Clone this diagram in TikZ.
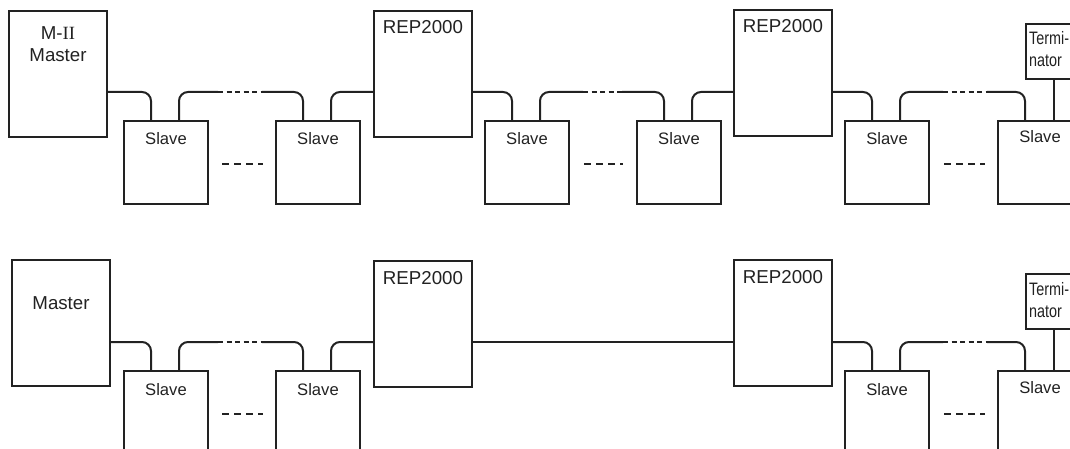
\documentclass[tikz,border=0pt]{standalone}
\usepackage{fontspec}
\setmainfont{Liberation Sans}
\newfontfamily\numeralfont{Liberation Serif}
\usetikzlibrary{positioning}
\definecolor{linegray}{HTML}{222222}
\newcommand{\narrow}[1]{\scalebox{0.8}[1]{#1}}
\tikzset{
  box/.style={draw=linegray, line width=2pt, inner sep=0pt, anchor=north west},
  mainbox/.style={box, minimum width=98pt, minimum height=126pt},
  slavebox/.style={box, minimum width=84pt, minimum height=83pt},
  termbox/.style={box, minimum width=56pt, minimum height=55pt},
  bigtxt/.style={font=\fontsize{18.7}{22}\selectfont, text=linegray, inner sep=0pt, anchor=base},
  slavetxt/.style={font=\fontsize{16.6}{20}\selectfont, text=linegray, inner sep=0pt, anchor=base},
  termtxt/.style={font=\fontsize{18}{20}\selectfont, text=linegray, inner sep=0pt, anchor=base west},
  wire/.style={draw=linegray, line width=2pt, rounded corners=9pt},
  wiregap/.style={draw=linegray, line width=2pt, dash pattern=on 5pt off 3.5pt},
  slavegap/.style={draw=linegray, line width=2pt, dash pattern=on 7pt off 5pt}
}
\begin{document}
\begin{tikzpicture}[x=1pt,y=-1pt]
    \useasboundingbox (0,0) rectangle (1070,449);
    \clip (0,0) rectangle (1070,449);
    % masters
    \node[mainbox, label={[bigtxt,yshift=-30pt]north:M-{\numeralfont II}},
      label={[bigtxt,yshift=-52pt]north:Master}] (ma) at (8,10) {};
    \node[mainbox, label={[bigtxt,yshift=-50pt]north:Master}] (mb) at (11,259) {};
    % parts shared by both rows
    \foreach \r/\oy in {a/0,b/250}{
      \coordinate (bus\r) at (0,92+\oy);
      \node[slavebox, label={[slavetxt,yshift=-25pt]north:Slave}] (s1\r) at (123,120+\oy) {};
      \node[slavebox, label={[slavetxt,yshift=-25pt]north:Slave}] (s2\r) at (275,120+\oy) {};
      \node[mainbox, label={[bigtxt,yshift=-24pt]north:REP2000}] (r1\r) at (373,10+\oy) {};
      \node[mainbox, label={[bigtxt,yshift=-24pt]north:REP2000}] (r2\r) at (733,9+\oy) {};
      \node[slavebox, label={[slavetxt,yshift=-25pt]north:Slave}] (s5\r) at (844,120+\oy) {};
      \node[slavebox, label={[slavetxt,yshift=-23pt]north:Slave}] (s6\r) at (997,120+\oy) {};
      \node[termbox, label={[termtxt,xshift=4pt,yshift=-22pt]north west:\narrow{Termi-}},
        label={[termtxt,xshift=4pt,yshift=-44pt]north west:\narrow{nator}}] (t\r) at (1025,23+\oy) {};
      \draw[wire] (m\r.east |- bus\r) -| ([xshift=28pt]s1\r.north west);
      \draw[wire] ([xshift=56pt]s1\r.north west) |- (218,92+\oy) coordinate (g1\r);
      \draw[wiregap] (g1\r) -- (262,92+\oy) coordinate (g2\r);
      \draw[wire] (g2\r) -| ([xshift=28pt]s2\r.north west);
      \draw[wire] ([xshift=56pt]s2\r.north west) |- (r1\r.west |- bus\r);
      \draw[slavegap] ([xshift=13pt,yshift=-1.5pt]s1\r.east) -- ([xshift=-12pt,yshift=-1.5pt]s2\r.west);
      \draw[wire] (r2\r.east |- bus\r) -| ([xshift=28pt]s5\r.north west);
      \draw[wire] ([xshift=56pt]s5\r.north west) |- (943,92+\oy) coordinate (g5\r);
      \draw[wiregap] (g5\r) -- (987,92+\oy) coordinate (g6\r);
      \draw[wire] (g6\r) -| ([xshift=28pt]s6\r.north west);
      \draw[wire] (t\r.south) -- (t\r.south |- s6\r.north);
      \draw[slavegap] ([xshift=14pt,yshift=-1.5pt]s5\r.east) -- ([xshift=-12pt,yshift=-1.5pt]s6\r.west);
    }
    % top row: slaves between the repeaters
    \node[slavebox, label={[slavetxt,yshift=-25pt]north:Slave}] (s3a) at (484,120) {};
    \node[slavebox, label={[slavetxt,yshift=-25pt]north:Slave}] (s4a) at (636,120) {};
    \draw[wire] (r1a.east |- busa) -| ([xshift=28pt]s3a.north west);
    \draw[wire] ([xshift=56pt]s3a.north west) |- (583,92) coordinate (g3a);
    \draw[wiregap] (g3a) -- (622,92) coordinate (g4a);
    \draw[wire] (g4a) -| ([xshift=28pt]s4a.north west);
    \draw[wire] ([xshift=56pt]s4a.north west) |- (r2a.west |- busa);
    \draw[slavegap] ([xshift=14pt,yshift=-1.5pt]s3a.east) -- ([xshift=-13pt,yshift=-1.5pt]s4a.west);
    % bottom row: plain link between the repeaters
    \draw[wire] (r1b.east |- busb) -- (r2b.west |- busb);
\end{tikzpicture}
\end{document}
